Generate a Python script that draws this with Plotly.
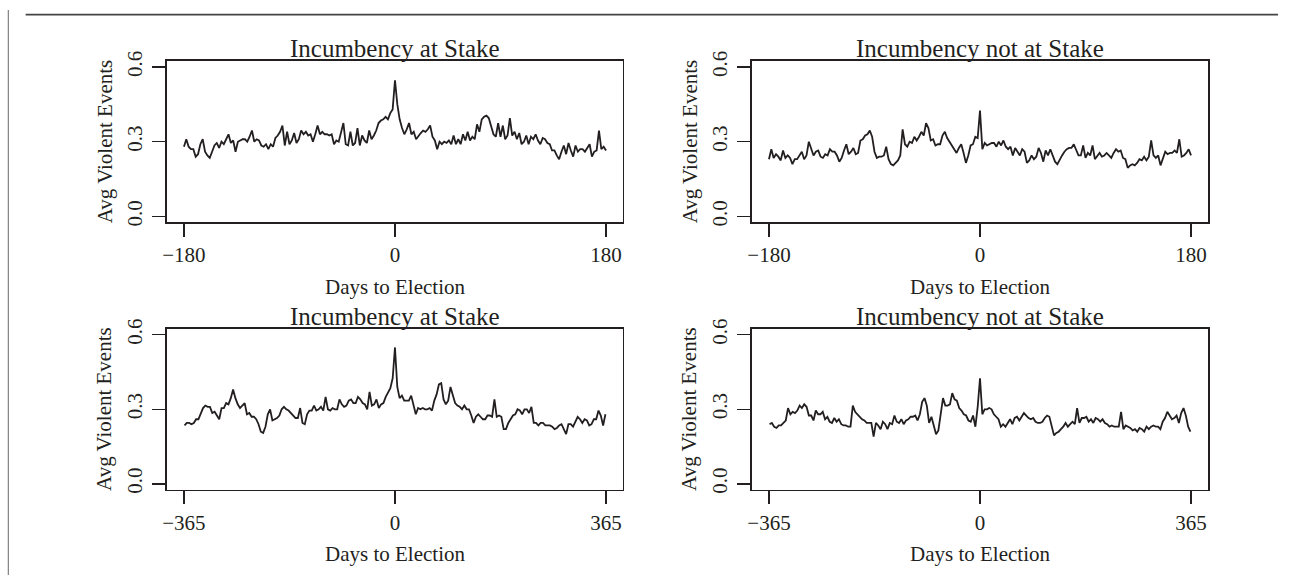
import plotly.graph_objects as go

W, H = 1289, 579

# ---------------- data ----------------
days_180 = list(range(-180, 181, 2))
days_365 = list(range(-364, 365, 4))

stake_180 = [
    0.28, 0.31, 0.28, 0.27, 0.27, 0.24, 0.25, 0.29, 0.31, 0.26,
    0.245, 0.235, 0.26, 0.285, 0.295, 0.275, 0.30, 0.29, 0.31, 0.33,
    0.295, 0.305, 0.26, 0.30, 0.305, 0.31, 0.31, 0.30, 0.32, 0.345,
    0.30, 0.31, 0.305, 0.285, 0.28, 0.29, 0.27, 0.29, 0.28, 0.315,
    0.325, 0.34, 0.365, 0.285, 0.34, 0.29, 0.305, 0.335, 0.295, 0.31,
    0.345, 0.33, 0.34, 0.325, 0.33, 0.30, 0.33, 0.365, 0.33, 0.34,
    0.33, 0.33, 0.325, 0.33, 0.29, 0.305, 0.30, 0.34, 0.375, 0.29,
    0.285, 0.34, 0.285, 0.295, 0.355, 0.285, 0.325, 0.305, 0.295, 0.345,
    0.31, 0.325, 0.345, 0.375, 0.385, 0.39, 0.40, 0.39, 0.415, 0.43,
    0.547, 0.45, 0.39, 0.355, 0.33, 0.35, 0.375, 0.33, 0.34, 0.31,
    0.325, 0.335, 0.345, 0.34, 0.35, 0.365, 0.32, 0.305, 0.27, 0.30,
    0.29, 0.30, 0.295, 0.305, 0.29, 0.325, 0.29, 0.31, 0.29, 0.33,
    0.305, 0.34, 0.305, 0.32, 0.31, 0.37, 0.34, 0.39, 0.40, 0.405,
    0.395, 0.365, 0.33, 0.32, 0.375, 0.32, 0.365, 0.31, 0.325, 0.395,
    0.325, 0.34, 0.31, 0.335, 0.29, 0.30, 0.325, 0.29, 0.32, 0.31,
    0.33, 0.305, 0.29, 0.315, 0.31, 0.295, 0.29, 0.265, 0.265, 0.245,
    0.23, 0.26, 0.285, 0.25, 0.295, 0.265, 0.24, 0.285, 0.26, 0.27,
    0.27, 0.26, 0.275, 0.29, 0.24, 0.26, 0.265, 0.345, 0.27, 0.28,
    0.265,
]

nostake_180 = [
    0.23, 0.27, 0.235, 0.25, 0.24, 0.225, 0.265, 0.235, 0.245, 0.235,
    0.21, 0.23, 0.23, 0.245, 0.26, 0.23, 0.245, 0.30, 0.27, 0.245,
    0.26, 0.265, 0.24, 0.235, 0.25, 0.245, 0.27, 0.26, 0.26, 0.245,
    0.22, 0.235, 0.265, 0.29, 0.25, 0.26, 0.275, 0.25, 0.255, 0.305,
    0.31, 0.325, 0.33, 0.345, 0.32, 0.26, 0.235, 0.24, 0.24, 0.245,
    0.28, 0.23, 0.21, 0.205, 0.215, 0.225, 0.245, 0.35, 0.29, 0.28,
    0.30, 0.295, 0.32, 0.305, 0.32, 0.34, 0.325, 0.375, 0.355, 0.305,
    0.31, 0.285, 0.29, 0.29, 0.325, 0.34, 0.315, 0.30, 0.28, 0.27,
    0.255, 0.275, 0.29, 0.255, 0.215, 0.245, 0.285, 0.29, 0.32, 0.315,
    0.425, 0.27, 0.295, 0.285, 0.29, 0.295, 0.295, 0.28, 0.30, 0.285,
    0.305, 0.28, 0.27, 0.28, 0.245, 0.275, 0.26, 0.245, 0.27, 0.26,
    0.215, 0.225, 0.245, 0.23, 0.24, 0.275, 0.255, 0.22, 0.265, 0.245,
    0.27, 0.245, 0.22, 0.21, 0.23, 0.245, 0.26, 0.27, 0.275, 0.275,
    0.29, 0.27, 0.245, 0.245, 0.285, 0.235, 0.255, 0.245, 0.285, 0.23,
    0.245, 0.255, 0.24, 0.245, 0.255, 0.245, 0.235, 0.255, 0.27, 0.26,
    0.265, 0.235, 0.23, 0.195, 0.205, 0.21, 0.205, 0.215, 0.23, 0.225,
    0.24, 0.225, 0.24, 0.305, 0.245, 0.235, 0.245, 0.205, 0.23, 0.26,
    0.25, 0.255, 0.255, 0.265, 0.255, 0.31, 0.24, 0.245, 0.255, 0.27,
    0.245,
]

stake_365 = [
    0.235, 0.245, 0.245, 0.24, 0.245, 0.26, 0.26, 0.28, 0.305, 0.315,
    0.31, 0.31, 0.285, 0.29, 0.275, 0.26, 0.305, 0.305, 0.325, 0.32,
    0.345, 0.38, 0.345, 0.32, 0.305, 0.315, 0.325, 0.28, 0.285, 0.27,
    0.27, 0.26, 0.24, 0.21, 0.205, 0.23, 0.28, 0.30, 0.255, 0.26,
    0.265, 0.275, 0.30, 0.31, 0.30, 0.295, 0.285, 0.275, 0.265, 0.265,
    0.305, 0.245, 0.24, 0.28, 0.295, 0.295, 0.315, 0.295, 0.30, 0.31,
    0.295, 0.35, 0.30, 0.295, 0.305, 0.30, 0.30, 0.34, 0.32, 0.31,
    0.315, 0.335, 0.34, 0.325, 0.325, 0.35, 0.34, 0.325, 0.32, 0.30,
    0.37, 0.315, 0.32, 0.34, 0.305, 0.32, 0.325, 0.35, 0.37, 0.385,
    0.425, 0.549, 0.39, 0.345, 0.355, 0.335, 0.335, 0.335, 0.355, 0.32,
    0.28, 0.305, 0.30, 0.305, 0.30, 0.30, 0.305, 0.295, 0.335, 0.36,
    0.40, 0.405, 0.34, 0.32, 0.335, 0.39, 0.355, 0.325, 0.315, 0.31,
    0.30, 0.315, 0.30, 0.30, 0.275, 0.245, 0.27, 0.28, 0.27, 0.26,
    0.26, 0.275, 0.275, 0.27, 0.34, 0.27, 0.275, 0.27, 0.22, 0.22,
    0.245, 0.26, 0.275, 0.28, 0.30, 0.295, 0.28, 0.30, 0.30, 0.285,
    0.31, 0.245, 0.245, 0.235, 0.245, 0.245, 0.235, 0.235, 0.235, 0.23,
    0.22, 0.225, 0.235, 0.24, 0.22, 0.20, 0.24, 0.24, 0.23, 0.25,
    0.27, 0.26, 0.245, 0.26, 0.255, 0.235, 0.24, 0.26, 0.26, 0.295,
    0.275, 0.235, 0.28,
]

nostake_365 = [
    0.24, 0.245, 0.23, 0.225, 0.235, 0.235, 0.245, 0.255, 0.305, 0.28,
    0.29, 0.285, 0.295, 0.315, 0.305, 0.32, 0.31, 0.275, 0.275, 0.255,
    0.295, 0.28, 0.28, 0.29, 0.26, 0.27, 0.25, 0.245, 0.265, 0.25,
    0.26, 0.24, 0.235, 0.235, 0.23, 0.23, 0.315, 0.29, 0.28, 0.27,
    0.26, 0.255, 0.245, 0.245, 0.245, 0.19, 0.245, 0.235, 0.22, 0.25,
    0.24, 0.22, 0.245, 0.24, 0.275, 0.25, 0.245, 0.26, 0.24, 0.255,
    0.26, 0.27, 0.27, 0.275, 0.255, 0.28, 0.33, 0.345, 0.315, 0.245,
    0.27, 0.235, 0.20, 0.215, 0.275, 0.345, 0.315, 0.315, 0.32, 0.365,
    0.34, 0.335, 0.305, 0.295, 0.28, 0.275, 0.255, 0.25, 0.275, 0.23,
    0.31, 0.425, 0.28, 0.30, 0.30, 0.305, 0.30, 0.28, 0.27, 0.26,
    0.23, 0.24, 0.23, 0.245, 0.26, 0.24, 0.265, 0.27, 0.255, 0.27,
    0.285, 0.275, 0.265, 0.26, 0.265, 0.25, 0.245, 0.245, 0.25, 0.265,
    0.275, 0.27, 0.23, 0.195, 0.205, 0.21, 0.22, 0.23, 0.245, 0.23,
    0.24, 0.25, 0.24, 0.305, 0.245, 0.265, 0.265, 0.27, 0.25, 0.26,
    0.245, 0.265, 0.26, 0.25, 0.26, 0.245, 0.24, 0.23, 0.235, 0.23,
    0.23, 0.23, 0.29, 0.22, 0.235, 0.23, 0.225, 0.215, 0.22, 0.21,
    0.225, 0.22, 0.21, 0.23, 0.22, 0.23, 0.235, 0.23, 0.23, 0.22,
    0.25, 0.265, 0.29, 0.275, 0.26, 0.265, 0.275, 0.245, 0.285, 0.305,
    0.275, 0.23, 0.21,
]

panel_titles = ["Incumbency at Stake", "Incumbency not at Stake",
                "Incumbency at Stake", "Incumbency not at Stake"]
x_title = "Days to Election"
y_title = "Avg Violent Events"
y_ticks = [0.0, 0.3, 0.6]
y_ticktext = ["0.0", "0.3", "0.6"]
x_ticks_180 = [-180, 0, 180]
x_ticktext_180 = ["\u2212180", "0", "180"]
x_ticks_365 = [-365, 0, 365]
x_ticktext_365 = ["\u2212365", "0", "365"]

# ---------------- layout geometry (pixels) ----------------
LINE = "#231f20"
FONT = "Liberation Serif, Times New Roman, serif"

boxes = [  # left, right, top, bottom
    (162.7, 620.3, 52.3, 217.7),
    (750.0, 1207.6, 52.3, 217.7),
    (162.7, 620.3, 326.7, 491.7),
    (750.0, 1207.6, 326.7, 491.7),
]
series = [
    (days_180, stake_180, x_ticks_180, x_ticktext_180, 180),
    (days_180, nostake_180, x_ticks_180, x_ticktext_180, 180),
    (days_365, stake_365, x_ticks_365, x_ticktext_365, 365),
    (days_365, nostake_365, x_ticks_365, x_ticktext_365, 365),
]

fig = go.Figure()
annotations = []
layout = dict(
    width=W, height=H, autosize=False,
    margin=dict(l=0, r=0, t=0, b=0),
    paper_bgcolor="white", plot_bgcolor="white",
    showlegend=False,
    font=dict(family=FONT, color=LINE, size=21),
)

for k, ((l, r, t, b), (xs, ys, xt, xtt, lim)) in enumerate(zip(boxes, series)):
    n = k + 1
    xa = "x" if n == 1 else f"x{n}"
    ya = "y" if n == 1 else f"y{n}"
    fig.add_trace(go.Scatter(
        x=xs, y=ys, mode="lines", xaxis=xa, yaxis=ya,
        line=dict(color=LINE, width=1.8), hoverinfo="skip"))
    ext = lim * 2 * 0.04
    common = dict(showgrid=False, zeroline=False, showline=True, mirror=True,
                  linecolor=LINE, linewidth=1.6, ticks="outside", ticklen=13,
                  tickwidth=1.4, tickcolor=LINE,
                  tickfont=dict(family=FONT, size=21, color=LINE))
    layout["xaxis" if n == 1 else f"xaxis{n}"] = dict(
        common, domain=[l / W, r / W], range=[-lim - ext, lim + ext],
        anchor=ya, tickvals=xt, ticktext=xtt, ticklabelstandoff=0)
    layout["yaxis" if n == 1 else f"yaxis{n}"] = dict(
        common, domain=[1 - b / H, 1 - t / H], range=[-0.024, 0.624],
        anchor=xa, tickvals=y_ticks, ticktext=y_ticktext, tickangle=-90,
        ticklabelstandoff=2)
    cx = (l + r) / 2
    annotations.append(dict(text=panel_titles[k], x=cx / W, y=1 - (t - 12.5) / H,
                            xref="paper", yref="paper", showarrow=False,
                            xanchor="center", yanchor="middle",
                            font=dict(family=FONT, size=25, color=LINE)))
    annotations.append(dict(text=x_title, x=cx / W, y=1 - (b + 66) / H,
                            xref="paper", yref="paper", showarrow=False,
                            xanchor="center", yanchor="middle",
                            font=dict(family=FONT, size=21, color=LINE)))
    annotations.append(dict(text=y_title, x=(l - 62.7) / W, y=1 - ((t + b) / 2) / H,
                            xref="paper", yref="paper", showarrow=False,
                            textangle=-90, xanchor="center", yanchor="middle",
                            font=dict(family=FONT, size=21, color=LINE)))

layout["annotations"] = annotations
layout["shapes"] = [
    dict(type="line", xref="paper", yref="paper", x0=20.7 / W, x1=1278 / W,
         y0=1 - 4.7 / H, y1=1 - 4.7 / H, line=dict(color="#444444", width=1.6)),
    dict(type="line", xref="paper", yref="paper", x0=3.3 / W, x1=3.3 / W,
         y0=0, y1=1, line=dict(color="#666666", width=1)),
]
fig.update_layout(**layout)
fig.write_html(
    "out.html",
    config={"displayModeBar": False, "staticPlot": True},
    post_script=(
        "document.documentElement.style.margin='0px';"
        "document.body.style.margin='0px';"
        "document.body.style.padding='0px';"
        "document.body.style.overflow='hidden';"
        "var gd=document.getElementById('{plot_id}');"
        "gd.style.position='fixed';gd.style.left='0px';gd.style.top='0px';"
    ),
)
